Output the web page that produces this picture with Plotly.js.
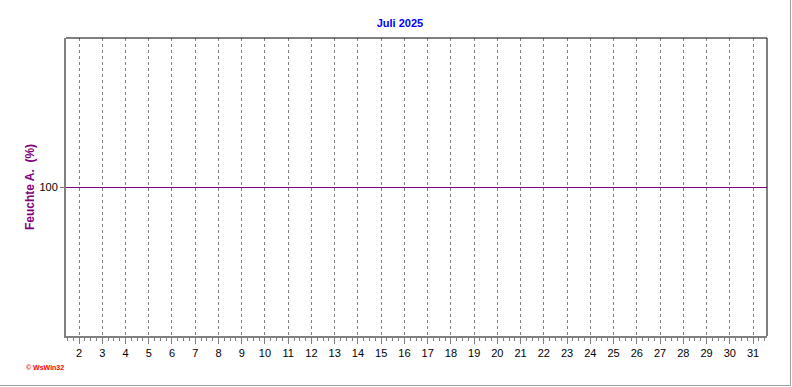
<!DOCTYPE html>
<html>
<head>
<meta charset="utf-8">
<script src="https://cdn.plot.ly/plotly-3.0.1.min.js"></script>
<style>
  body { margin: 0; padding: 0; background: #fff; }
  #wrap { position: relative; width: 792px; height: 387px; }
  #chart { width: 792px; height: 387px; }
  #frame { position: absolute; left: 0; top: 0; width: 790px; height: 385px;
           border-right: 1px solid #a0a0a0; border-bottom: 1px solid #a0a0a0;
           pointer-events: none; }
</style>
</head>
<body>
<div id="wrap">
  <div id="chart"></div>
  <div id="frame"></div>
</div>
<script>
// Data (no humidity readings recorded for this month)
const days = [2,3,4,5,6,7,8,9,10,11,12,13,14,15,16,17,18,19,20,21,22,23,24,25,26,27,28,29,30,31];
const dayLabels = ["2","3","4","5","6","7","8","9","10","11","12","13","14","15","16","17","18","19","20","21","22","23","24","25","26","27","28","29","30","31"];
const feuchteX = [];
const feuchteY = [];
const yTicks = [100];
const yTickLabels = ["100"];
const chartTitle = "Juli 2025";
const yTitle = "Feuchte A.  (%)";

const trace = {
  x: feuchteX, y: feuchteY, type: 'scatter', mode: 'lines',
  line: { color: '#800080', width: 1 }, showlegend: false, hoverinfo: 'skip'
};

const layout = {
  width: 792, height: 387,
  margin: { l: 66, r: 25, t: 38, b: 51 },
  paper_bgcolor: '#ffffff', plot_bgcolor: '#ffffff',
  font: { family: 'Liberation Sans, Arial, sans-serif', size: 11, color: '#000' },
  showlegend: false,
  title: {
    text: '<b>' + chartTitle + '</b>',
    font: { family: 'Liberation Sans, Arial, sans-serif', size: 11, color: '#0000ff' },
    x: 0.505, xanchor: 'center', y: 0.94, yanchor: 'middle'
  },
  xaxis: {
    range: [1.44, 31.6],
    tickmode: 'array', tickvals: days, ticktext: dayLabels,
    ticks: 'outside', ticklen: 6, tickwidth: 1, tickcolor: '#808080',
    showgrid: true, gridcolor: '#808080', griddash: '3px,3px', gridwidth: 1,
    showline: true, linecolor: '#808080', linewidth: 2,
    zeroline: false, fixedrange: true,
    tickfont: { size: 11, color: '#000' },
    minor: { dtick: 0.25, tick0: 0, ticks: 'outside', ticklen: 3, tickcolor: '#808080', showgrid: false }
  },
  yaxis: {
    range: [50, 150],
    tickmode: 'array', tickvals: yTicks, ticktext: yTickLabels,
    ticks: 'outside', ticklen: 4, tickcolor: '#808080',
    showgrid: true, gridcolor: '#800080', gridwidth: 1,
    showline: true, linecolor: '#808080', linewidth: 2,
    zeroline: false, fixedrange: true,
    tickfont: { size: 11, color: '#000' },
    title: {
      text: '<b>' + yTitle + '</b>',
      font: { family: 'Liberation Sans, Arial, sans-serif', size: 12, color: '#800080' },
      standoff: 2
    }
  },
  shapes: [
    { type: 'line', xref: 'paper', yref: 'paper', x0: 0, x1: 1, y0: 1, y1: 1,
      line: { color: '#000', width: 1 } },
    { type: 'line', xref: 'paper', yref: 'paper', x0: 1, x1: 1, y0: 0, y1: 1,
      line: { color: '#000', width: 1 } }
  ],
  annotations: [
    { text: '<b>© WsWin32</b>', xref: 'paper', yref: 'paper',
      x: -0.06, y: -0.105, xanchor: 'left', yanchor: 'middle', showarrow: false,
      font: { family: 'Liberation Sans, Arial, sans-serif', size: 7, color: '#ff0000' } }
  ]
};

Plotly.newPlot('chart', [trace], layout, { staticPlot: true, displayModeBar: false });
</script>
</body>
</html>
